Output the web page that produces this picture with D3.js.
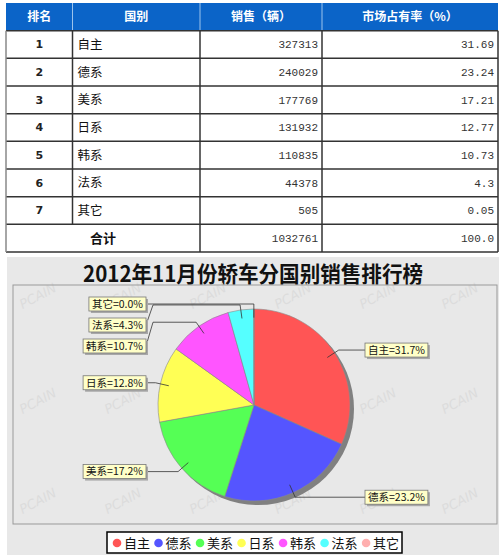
<!DOCTYPE html>
<html><head><meta charset="utf-8">
<script src="https://cdn.jsdelivr.net/npm/d3@7"></script>
<style>body{margin:0;background:#fff} svg{display:block}</style>
</head><body>
<svg id="c" width="500" height="558"></svg>
<script>
// ---- data ----
const headers = ['排名', '国别', '销售（辆）', '市场占有率（%）'];
const ranks = [1, 2, 3, 4, 5, 6, 7];
const countries = ['自主', '德系', '美系', '日系', '韩系', '法系', '其它'];
const sales = [327313, 240029, 177769, 131932, 110835, 44378, 505];
const shares = [31.69, 23.24, 17.21, 12.77, 10.73, 4.3, 0.05];
const totalLabel = '合计';
const totalSales = 1032761;
const totalShare = '100.0';
const chartTitle = '2012年11月份轿车分国别销售排行榜';
const colors = ['#FF5555', '#5555FF', '#55FF55', '#FFFF55', '#FF55FF', '#55FFFF', '#FFAFAF'];

const svg = d3.select('#c');
const CJK = '"Noto Sans CJK SC", "Noto Sans", sans-serif';

// ---- table ----
const colEdges = [6, 72.5, 200, 322, 498];
const rowKeys = ['h', ...ranks.map(String), 't'];
const y = d3.scaleBand().domain(rowKeys).range([3, 252]).padding(0);
const tbl = svg.append('g');

tbl.append('rect').attr('x', colEdges[0]).attr('y', y('h'))
  .attr('width', colEdges[4] - colEdges[0]).attr('height', y.bandwidth())
  .attr('fill', '#0B64C8');
tbl.append('rect').attr('x', colEdges[0]).attr('y', y('1'))
  .attr('width', colEdges[4] - colEdges[0]).attr('height', y.range()[1] - y('1'))
  .attr('fill', '#fff');

[1, 2, 3].forEach(i => tbl.append('line')
  .attr('x1', colEdges[i]).attr('x2', colEdges[i])
  .attr('y1', y('h')).attr('y2', y('h') + y.bandwidth())
  .attr('stroke', '#9cc3ec').attr('stroke-width', 1));

rowKeys.slice(1).forEach(k => tbl.append('line')
  .attr('x1', colEdges[0]).attr('x2', colEdges[4])
  .attr('y1', y(k)).attr('y2', y(k)).attr('stroke', '#333').attr('stroke-width', 1.5));
tbl.append('line').attr('x1', colEdges[0]).attr('x2', colEdges[4])
  .attr('y1', y.range()[1]).attr('y2', y.range()[1]).attr('stroke', '#333').attr('stroke-width', 1.5);
[0, 1, 2, 3, 4].forEach(i => {
  const yEnd = i === 1 ? y('t') : y.range()[1];
  tbl.append('line').attr('x1', colEdges[i]).attr('x2', colEdges[i])
    .attr('y1', y('1')).attr('y2', yEnd)
    .attr('stroke', i === 0 ? '#888' : '#333').attr('stroke-width', 1.5);
});

headers.forEach((h, i) => tbl.append('text')
  .attr('x', (colEdges[i] + colEdges[i + 1]) / 2).attr('y', y('h') + y.bandwidth() / 2)
  .attr('dy', '0.35em').attr('text-anchor', 'middle')
  .attr('fill', '#fff').attr('font-weight', 'bold').attr('font-size', 12)
  .attr('font-family', CJK).text(h));

ranks.forEach((r, i) => {
  const cy = y(String(r)) + y.bandwidth() / 2;
  tbl.append('text').attr('x', (colEdges[0] + colEdges[1]) / 2).attr('y', cy).attr('dy', '0.35em')
    .attr('text-anchor', 'middle').attr('font-weight', 'bold').attr('font-size', 11)
    .attr('font-family', '"DejaVu Sans", sans-serif').attr('fill', '#222').text(r);
  tbl.append('text').attr('x', colEdges[1] + 5).attr('y', cy).attr('dy', '0.36em')
    .attr('font-size', 12.5).attr('font-family', CJK).attr('fill', '#111').text(countries[i]);
  tbl.append('text').attr('x', colEdges[3] - 4).attr('y', cy).attr('dy', '0.35em')
    .attr('text-anchor', 'end').attr('font-size', 11)
    .attr('font-family', '"Liberation Mono", monospace').attr('fill', '#333').text(sales[i]);
  tbl.append('text').attr('x', colEdges[4] - 4).attr('y', cy).attr('dy', '0.35em')
    .attr('text-anchor', 'end').attr('font-size', 11)
    .attr('font-family', '"Liberation Mono", monospace').attr('fill', '#333').text(shares[i]);
});
{
  const cy = y('t') + y.bandwidth() / 2;
  tbl.append('text').attr('x', (colEdges[0] + colEdges[2]) / 2).attr('y', cy).attr('dy', '0.36em')
    .attr('text-anchor', 'middle').attr('font-weight', 'bold').attr('font-size', 13)
    .attr('font-family', CJK).attr('fill', '#111').text(totalLabel);
  tbl.append('text').attr('x', colEdges[3] - 4).attr('y', cy).attr('dy', '0.35em')
    .attr('text-anchor', 'end').attr('font-size', 11)
    .attr('font-family', '"Liberation Mono", monospace').attr('fill', '#333').text(totalSales);
  tbl.append('text').attr('x', colEdges[4] - 4).attr('y', cy).attr('dy', '0.35em')
    .attr('text-anchor', 'end').attr('font-size', 11)
    .attr('font-family', '"Liberation Mono", monospace').attr('fill', '#333').text(totalShare);
}

// ---- chart panel ----
const ch = svg.append('g');
ch.append('rect').attr('x', 7).attr('y', 257).attr('width', 492).attr('height', 298).attr('fill', '#E8E8E8');
ch.append('text').attr('x', 253).attr('y', 282).attr('text-anchor', 'middle')
  .attr('font-size', 22).attr('font-weight', 'bold').attr('font-family', CJK)
  .attr('textLength', 340).attr('lengthAdjust', 'spacingAndGlyphs')
  .attr('fill', '#111').text(chartTitle);

const wm = ch.append('g').attr('fill', '#DCDCDC').attr('font-family', '"DejaVu Sans", sans-serif')
  .attr('font-style', 'italic').attr('font-size', 13);
[300, 405, 505].forEach(wy => {
  [40, 125, 210, 295, 380, 462].forEach(wx => {
    wm.append('text').attr('transform', `translate(${wx},${wy}) rotate(-28)`)
      .attr('text-anchor', 'middle').text('PCAIN');
  });
});

ch.append('rect').attr('x', 13).attr('y', 285).attr('width', 484).attr('height', 239)
  .attr('fill', 'none').attr('stroke', '#999').attr('stroke-width', 1);

// pie
const cx = 254, cy = 405, R = 96;
const arcs = d3.pie().sort(null).value(d => d)(sales);
const arc = d3.arc().innerRadius(0).outerRadius(R);
const pg = ch.append('g');
pg.append('circle').attr('cx', cx + 4).attr('cy', cy + 4).attr('r', R).attr('fill', '#808080');
pg.append('g').attr('transform', `translate(${cx},${cy})`)
  .selectAll('path').data(arcs).join('path')
  .attr('d', arc).attr('fill', (d, i) => colors[i])
  .attr('stroke', '#8a8a8a').attr('stroke-width', 0.6);

// labels
const total = d3.sum(sales);
const recs = arcs.map((a, i) => {
  const m = (a.startAngle + a.endAngle) / 2;
  return {
    i, m,
    side: Math.sin(m) >= 0 ? 'R' : 'L',
    lx: cx + Math.sin(m) * R * 0.91, ly: cy - Math.cos(m) * R * 0.91,
    ex: cx + Math.sin(m) * (R + 5), ey: cy - Math.cos(m) * (R + 5),
    text: countries[i] + '=' + (sales[i] / total * 100).toFixed(1) + '%'
  };
});
['L', 'R'].forEach(s => {
  const list = recs.filter(r => r.side === s).sort((a, b) => a.ey - b.ey);
  let prev = -Infinity;
  list.forEach(r => { r.ty = Math.max(r.ey, prev + 21); prev = r.ty; });
});
const lg = ch.append('g');
recs.forEach(r => {
  const anchorX = r.side === 'L' ? 153 : 355;
  const g = lg.append('g');
  const t = g.append('text').attr('font-size', 10.5).attr('font-family', CJK)
    .attr('fill', '#111').attr('dy', '0.36em').text(r.text);
  const w = t.node().getComputedTextLength() + 6, h = 14;
  const bx = r.side === 'L' ? 146 - w : 365;
  const targetX = r.side === 'L' ? bx + w : bx;
  lg.insert('path', ':first-child')
    .attr('d', `M${r.lx},${r.ly}L${r.ex},${r.ey}L${anchorX},${r.ey}L${targetX},${r.ty}`)
    .attr('fill', 'none').attr('stroke', '#333').attr('stroke-width', 0.8);
  g.insert('rect', 'text').attr('x', bx + 2).attr('y', r.ty - h / 2 + 2).attr('width', w).attr('height', h)
    .attr('fill', '#A8A8A8');
  g.insert('rect', 'text').attr('x', bx).attr('y', r.ty - h / 2).attr('width', w).attr('height', h)
    .attr('fill', '#FFFFC8').attr('stroke', '#777').attr('stroke-width', 0.8);
  t.attr('x', bx + 3).attr('y', r.ty);
});

// legend
const leg = ch.append('g');
leg.append('rect').attr('x', 107).attr('y', 532).attr('width', 295).attr('height', 21)
  .attr('fill', '#fff').attr('stroke', '#000').attr('stroke-width', 1.5);
let lx = 117;
countries.forEach((c, i) => {
  leg.append('circle').attr('cx', lx).attr('cy', 543).attr('r', 4.3).attr('fill', colors[i]);
  const t = leg.append('text').attr('x', lx + 7).attr('y', 543).attr('dy', '0.36em')
    .attr('font-size', 13).attr('font-family', CJK).attr('fill', '#111').text(c);
  lx = lx + 7 + t.node().getComputedTextLength() + 8.5;
});
</script>
</body></html>
